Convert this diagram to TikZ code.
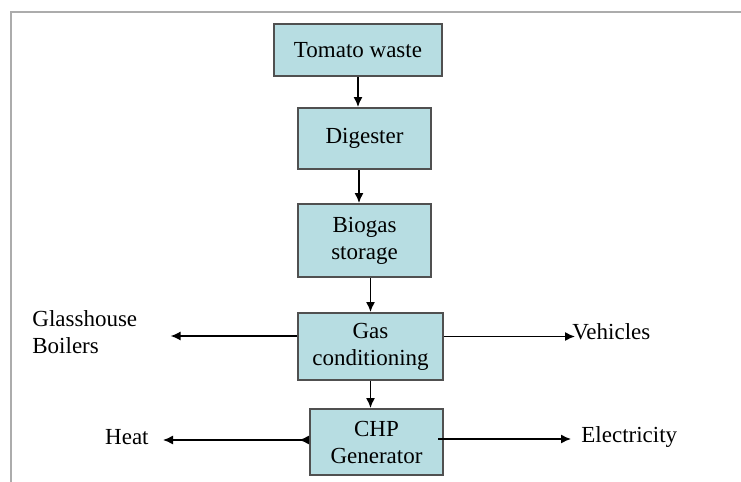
\documentclass[tikz,border=0pt]{standalone}
\usepackage{fontspec}
\setmainfont{Liberation Serif}
\usepackage{tikz}
\usetikzlibrary{arrows.meta}
\usetikzlibrary{calc}

\definecolor{stagefill}{RGB}{183,221,226}
\definecolor{stageedge}{RGB}{80,80,80}
\definecolor{framegray}{RGB}{172,172,172}

\begin{document}
\begin{tikzpicture} [
    x=0.5pt, y=-0.5pt,
    every node/.style = {font=\fontsize{11.5}{13.5}\selectfont, align=center},
    stage/.style = {draw=stageedge, fill=stagefill, line width=1pt, inner sep=0pt},
    outlet/.style = {inner sep=0pt, align=left},
    flow/.style = {-{Latex[length=5pt,width=4.5pt]}, line width=0.7pt}
]
    \useasboundingbox (0,0) rectangle (741,482);
    \draw[framegray, line width=1pt] (10.5,482) -- (10.5,12) -- (741,12);

    \node [stage, minimum width=84pt, minimum height=26pt] (tomato) at (358,50) {Tomato waste};
    \node [stage, minimum width=66.5pt, minimum height=30.5pt] (digester) at (364.5,138.5) {Digester};
    \node [stage, minimum width=66.5pt, minimum height=36.5pt] (biogas) at (364.5,240.5) {Biogas\\storage};
    \node [stage, minimum width=72.5pt, minimum height=33.5pt] (gas) at (370.5,346.5) {Gas\\conditioning};
    \node [stage, minimum width=66.5pt, minimum height=33pt] (chp) at (376.5,442) {CHP\\Generator};

    \node [outlet, anchor=west] (glass) at (32,332) {Glasshouse\\Boilers};
    \node [outlet, anchor=west] (vehicles) at (572,332) {Vehicles};
    \node [outlet, anchor=east] (heat) at (149,437) {Heat};
    \node [outlet, anchor=west] (elec) at (581,437) {Electricity};

    \draw[flow] (tomato.south) -- (tomato.south |- digester.north);
    \draw[flow] ([xshift=-2.75pt]digester.south) -- ([xshift=-2.75pt]biogas.north);
    \draw[flow] (gas.north |- biogas.south) -- (gas.north);
    \draw[flow] (gas.south) -- (gas.south |- chp.north);

    % side outputs
    \draw[flow, shorten >=16.5pt] ([yshift=5.25pt]gas.west) -- ([yshift=5.25pt]gas.west -| glass.east);
    \draw[flow, shorten >=-1.5pt] ([yshift=5pt]gas.east) -- ([yshift=5pt]gas.east -| vehicles.west);
    \draw[{Latex[reversed,length=5pt,width=4.5pt]}-{Latex[length=5pt,width=4.5pt]}, line width=0.7pt, shorten >=7pt]
        ([yshift=1pt]chp.west) -- ([yshift=1pt]chp.west -| heat.east);
    \draw[flow, shorten >=2pt] ([xshift=-3pt,yshift=1.5pt]chp.east) -- ([xshift=-3pt,yshift=1.5pt]chp.east -| elec.west);
\end{tikzpicture}
\end{document}
